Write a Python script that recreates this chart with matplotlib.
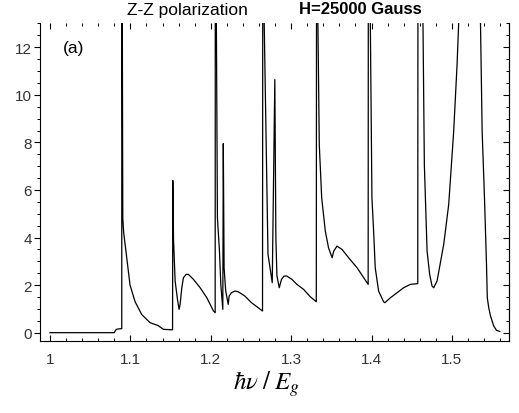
import matplotlib
matplotlib.use("Agg")
import matplotlib.pyplot as plt
from matplotlib.ticker import MultipleLocator

# photon energy (in units of Eg) and absorption
energy = [
    1.000, 1.080, 1.0815, 1.0834, 1.0893,
    1.0895, 1.0900, 1.0906, 1.0917, 1.0946, 1.0996, 1.1059, 1.1142, 1.1245, 1.1345, 1.1411, 1.1525,
    1.1528, 1.1537, 1.1557, 1.1586, 1.1606, 1.1619, 1.1640, 1.1660, 1.1694, 1.1722,
    1.1785, 1.1868, 1.1951, 1.2034, 1.2055,
    1.2059, 1.2070, 1.2083, 1.2108, 1.2125, 1.2150,
    1.2156, 1.2166, 1.2186, 1.2217, 1.2229, 1.2258, 1.2300, 1.2341, 1.2424, 1.2507,
    1.2590, 1.2644,
    1.2652, 1.2665, 1.2712, 1.2765,
    1.2797, 1.2810, 1.2823, 1.2852, 1.2880, 1.2910, 1.2947, 1.3010, 1.3072, 1.3155,
    1.3238, 1.3313,
    1.3321, 1.3333, 1.3350, 1.3380, 1.3425, 1.3465, 1.3510, 1.3530, 1.3570, 1.3633,
    1.3715, 1.3820, 1.3903, 1.3958,
    1.3964, 1.3985, 1.4005, 1.4026, 1.4046, 1.4088, 1.4150, 1.4166, 1.4235, 1.4318,
    1.4400, 1.4483, 1.4566, 1.4575,
    1.4582, 1.4640, 1.4657, 1.4691, 1.4723, 1.4753, 1.4773, 1.4815, 1.4898, 1.4960,
    1.5022, 1.5064, 1.5085, 1.5220,
    1.5355, 1.5376, 1.5405, 1.5430, 1.5440, 1.5458, 1.5480, 1.5520, 1.5554, 1.5595,
]
absorption = [
    0.0, 0.0, 0.10, 0.15, 0.17,
    40, 13, 4.8, 4.2, 3.4, 2.0, 1.3, 0.76, 0.42, 0.30, 0.14, 0.12,
    6.4, 3.9, 2.17, 1.40, 0.98, 1.19, 1.89, 2.31, 2.45, 2.45,
    2.24, 1.89, 1.47, 0.91, 0.84,
    40, 13, 4.83, 3.45, 2.03, 0.98,
    7.95, 2.73, 1.76, 1.19, 1.54, 1.68, 1.75, 1.72, 1.54, 1.26,
    1.05, 0.91,
    40, 13, 3.3, 2.1,
    10.64, 4.0, 2.4, 1.89, 2.24, 2.38, 2.38, 2.24, 2.03, 1.82,
    1.51, 1.30,
    40, 13, 7.91, 5.67, 4.27, 3.57, 3.15, 3.43, 3.64, 3.5,
    3.15, 2.73, 2.31, 2.03,
    40, 13, 5.67, 4.27, 2.73, 1.75, 1.30, 1.26, 1.47, 1.68,
    1.89, 2.03, 2.06, 2.06,
    40, 13, 7.07, 3.43, 2.45, 1.96, 1.89, 2.17, 3.71, 5.39,
    8.47, 11.27, 13.1, 60,
    13.1, 8.47, 5.67, 2.87, 1.47, 1.05, 0.70, 0.28, 0.10, 0.05,
]

x_ticks = [1.0, 1.1, 1.2, 1.3, 1.4, 1.5]
x_ticklabels = ["1", "1.1", "1.2", "1.3", "1.4", "1.5"]
y_ticks = [0, 2, 4, 6, 8, 10, 12]

plt.rcParams["mathtext.fontset"] = "stix"
plt.rcParams["font.family"] = ["Liberation Sans", "DejaVu Sans"]

fig = plt.figure(figsize=(5.19, 4.14), dpi=100)
ax = fig.add_axes([40 / 519, 72 / 414, 469 / 519, 318 / 414])

ax.plot(energy, absorption, color="black", lw=0.9)

ax.set_xlim(0.9876, 1.571)
ax.set_ylim(-0.35, 13.02)

ax.set_xticks(x_ticks)
ax.set_xticklabels(x_ticklabels)
ax.set_yticks(y_ticks)
ax.xaxis.set_minor_locator(MultipleLocator(0.02))
ax.yaxis.set_minor_locator(MultipleLocator(0.5))

ax.spines["top"].set_visible(False)
for s in ["left", "right", "bottom"]:
    ax.spines[s].set_linewidth(0.8)

ax.tick_params(axis="x", which="both", direction="in", top=True, bottom=True,
               labelsize=11, labelcolor="#333333", pad=8)
ax.tick_params(axis="x", which="major", length=4, width=0.8)
ax.tick_params(axis="x", which="minor", length=2, width=0.7)
ax.tick_params(axis="y", which="both", direction="out", left=True, right=False,
               labelsize=11, labelcolor="#333333", pad=2)
ax.tick_params(axis="y", which="major", length=4, width=0.8)
ax.tick_params(axis="y", which="minor", length=2, width=0.7)

# inward ticks on the right frame edge
ax2 = ax.twinx()
ax2.set_ylim(ax.get_ylim())
ax2.set_yticks(y_ticks)
ax2.yaxis.set_minor_locator(MultipleLocator(0.5))
ax2.tick_params(axis="y", which="both", direction="in", labelright=False)
ax2.tick_params(axis="y", which="major", length=4, width=0.8)
ax2.tick_params(axis="y", which="minor", length=2, width=0.7)
for s in ["top", "left", "bottom"]:
    ax2.spines[s].set_visible(False)
ax2.spines["right"].set_linewidth(0.8)

ax.text(1.016, 12.0, "(a)", fontsize=12.5, va="center", ha="left")

fig.text(187 / 519, 1 - 11 / 414, "Z-Z polarization", fontsize=12.5,
         ha="center", va="center")
fig.text(360 / 519, 1 - 9 / 414, "H=25000 Gauss", fontsize=12,
         fontweight="bold", ha="center", va="center")

fig.text(266 / 519, 1 - 384 / 414, r"$\hbar\nu\;/\;E_{g}$", fontsize=18,
         ha="center", va="center")

fig.savefig("out.png", dpi=100)
